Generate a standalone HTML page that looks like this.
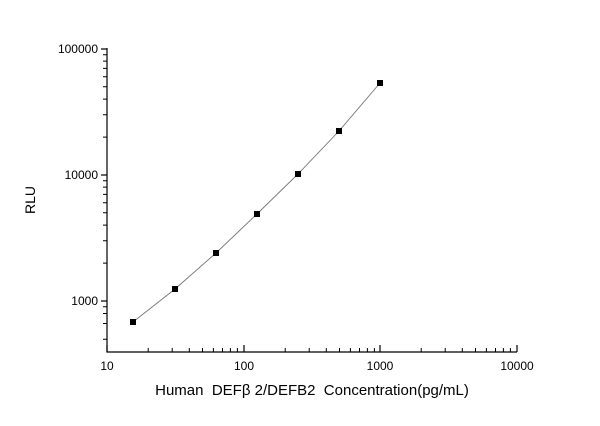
<!DOCTYPE html>
<html><head><style>body{margin:0;background:#fff}</style></head><body>
<svg width="600" height="421" xmlns="http://www.w3.org/2000/svg" font-family="Liberation Sans, sans-serif">
<rect width="600" height="421" fill="#fff"/>
<g stroke="#000" stroke-width="1.2" fill="none">
<line x1="107" y1="48" x2="107" y2="352.5"/>
<line x1="106.5" y1="352" x2="517" y2="352"/>
<line x1="101" y1="49" x2="107" y2="49"/>
<line x1="101" y1="175" x2="107" y2="175"/>
<line x1="101" y1="301" x2="107" y2="301"/>
<line x1="107" y1="352" x2="107" y2="345"/>
<line x1="244" y1="352" x2="244" y2="345"/>
<line x1="380" y1="352" x2="380" y2="345"/>
<line x1="517" y1="352" x2="517" y2="345"/>
</g>
<g stroke="#000" stroke-width="1">
<path d="M103 339.2H107M103 323.5H107M103 313.5H107M103 306.7H107
M103 263.1H107M103 240.8H107M103 225.1H107M103 212.8H107M103 202.8H107M103 194.4H107M103 187.1H107M103 180.7H107
M103 137.1H107M103 114.8H107M103 99.1H107M103 86.8H107M103 76.8H107M103 68.4H107M103 61.1H107M103 54.7H107"/>
<path d="M148.2 352V348M172.2 352V348M189.3 352V348M202.5 352V348M213.4 352V348M222.5 352V348M230.4 352V348M237.4 352V348
M285.2 352V348M309.2 352V348M326.3 352V348M339.5 352V348M350.4 352V348M359.5 352V348M367.4 352V348M374.4 352V348
M421.2 352V348M445.2 352V348M462.3 352V348M475.5 352V348M486.4 352V348M495.5 352V348M503.4 352V348M510.4 352V348"/>
</g>
<polyline fill="none" stroke="#777" stroke-width="0.9" points="133,322 175,289 216,253 257,214 298,174 339,131 380,83"/>
<g fill="#000">
<rect x="130" y="319" width="6" height="6"/>
<rect x="172" y="286" width="6" height="6"/>
<rect x="213" y="250" width="6" height="6"/>
<rect x="254" y="211" width="6" height="6"/>
<rect x="295" y="171" width="6" height="6"/>
<rect x="336" y="128" width="6" height="6"/>
<rect x="377" y="80" width="6" height="6"/>
</g>
<g font-size="12" fill="#000" text-anchor="end">
<text x="98" y="53">100000</text>
<text x="98" y="179">10000</text>
<text x="98" y="305">1000</text>
</g>
<g font-size="12" fill="#000" text-anchor="middle">
<text x="107" y="370">10</text>
<text x="244" y="370">100</text>
<text x="380" y="370">1000</text>
<text x="517" y="370">10000</text>
</g>
<text x="312" y="395" font-size="15" text-anchor="middle" xml:space="preserve">Human  DEFβ 2/DEFB2  Concentration(pg/mL)</text>
<text transform="translate(35,200) rotate(-90)" font-size="14" text-anchor="middle">RLU</text>
</svg>
</body></html>
